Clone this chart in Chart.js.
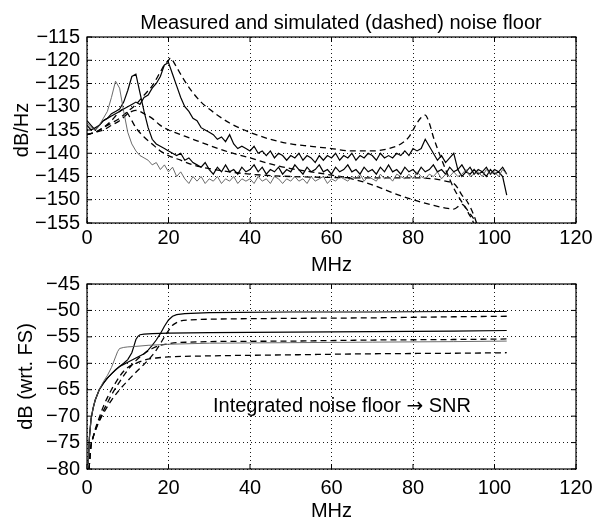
<!DOCTYPE html>
<html><head><meta charset="utf-8">
<script src="https://cdn.jsdelivr.net/npm/chart.js@4"></script>
<style>
body{margin:0;background:#fff;width:603px;height:521px;overflow:hidden}
.w{position:absolute;left:0;width:603px}
</style>
</head><body>
<div class="w" id="w1" style="top:0;height:277px"><canvas id="c1"></canvas></div>
<div class="w" id="w2" style="top:265px;height:258px"><canvas id="c2"></canvas></div>
<script>
// ---------- DATA ----------
const titleTop = 'Measured and simulated (dashed) noise floor';
const annotParts = ['Integrated noise floor ', '\u2192', ' SNR'];
const xLabel = 'MHz';
const yLabelTop = 'dB/Hz';
const yLabelBottom = 'dB (wrt. FS)';
const xTicks = [0, 20, 40, 60, 80, 100, 120];
const yTicksTop = [-155, -150, -145, -140, -135, -130, -125, -120, -115];
const yTicksBottom = [-80, -75, -70, -65, -60, -55, -50, -45];

// measured spectra, 1 MHz steps 0..103
const measFreq = [0,1,2,3,4,5,6,7,8,9,10,11,12,13,14,15,16,17,18,19,20,21,22,23,24,25,26,27,28,29,30,31,32,33,34,35,36,37,38,39,40,41,42,43,44,45,46,47,48,49,50,51,52,53,54,55,56,57,58,59,60,61,62,63,64,65,66,67,68,69,70,71,72,73,74,75,76,77,78,79,80,81,82,83,84,85,86,87,88,89,90,91,92,93,94,95,96,97,98,99,100,101,102,103];
const measA = [-133.5,-134.5,-135,-134,-132.5,-131,-128,-124.5,-126,-131,-135.5,-138,-139.5,-140.5,-141,-141.5,-142.5,-142,-143.5,-142.5,
 -144,-143,-145,-144,-145.5,-146.5,-145,-146,-145,-146.5,-145.5,-146,-145,-146.5,-145.5,-146,-145,-146.5,-145.5,-146,
 -145.5,-146.5,-145,-146,-145.5,-146.5,-145,-145.5,-146.5,-145.5,-146,-145,-146,-145.5,-146.5,-145,-146,-145.5,-145,-146.5,
 -145.5,-146,-145,-145.5,-146,-145,-145.5,-144.5,-146,-145,-145.5,-146,-144.5,-145.5,-145,-146,-144.5,-145,-145.5,-144.5,
 -145.5,-144,-145,-145.5,-144.5,-145,-144,-145.5,-144.5,-145,-144,-145,-144.5,-143.5,-145,-144.5,-144,-145,-143.5,-144.5,
 -144,-145,-143.5,-144.5];
const measB = [-134,-135,-134.5,-134,-133,-132.5,-131.5,-131,-130.5,-129,-126.5,-123.5,-123,-127,-131,-134.5,-137,-138,-138.5,-139,
 -139.5,-140,-140.5,-140,-141.5,-141,-142,-142.5,-143,-142,-143.5,-144.5,-143,-144,-142.5,-144,-143.5,-144.5,-143,-144,
 -143.5,-142.5,-144,-143,-144.5,-143.5,-144,-143,-144.5,-143.5,-144,-142.5,-143.5,-144.5,-143,-144,-143.5,-142.5,-144,-143.5,
 -144.5,-143,-144,-143.5,-142.5,-144,-143.5,-144.5,-143,-144,-143.5,-144.5,-143,-144,-142.5,-144,-143.5,-144.5,-143,-144,
 -143.5,-144.5,-143,-144,-143.5,-142.5,-144,-143.5,-144.5,-143,-144,-143.5,-142.5,-144,-143,-144.5,-143.5,-144,-143,-144.5,
 -143.5,-144,-143,-144.5];
const measC = [-133,-134,-135,-134,-133,-132.5,-132,-131.5,-131,-130.5,-130,-129.5,-129,-129.5,-128,-127.5,-126,-125,-123.5,-121,
 -120.5,-123,-125.5,-128,-130,-131,-132.5,-133,-134.5,-135,-135.5,-136,-137,-136.5,-137.5,-136,-138,-139,-138.5,-139,
 -139.5,-138.5,-140,-139.5,-140.5,-139.5,-141,-140,-140.5,-141.5,-140.5,-141,-140,-141.5,-140.5,-141,-142,-140.5,-141.5,-140.5,
 -141,-140,-141.5,-140.5,-141,-140,-141.5,-140.5,-141,-140,-140.5,-141.5,-140,-141,-140.5,-141,-140,-140.5,-139.5,-140.5,
 -139,-139.5,-139,-137,-138.5,-140,-141.5,-140.5,-142,-141,-140,-143.5,-145,-144,-144.5,-143.5,-144.5,-144,-145,-143.5,
 -144.5,-144,-145,-149];

// simulated spectra (dashed)
const simCx = [0,2,4,6,8,10,12,14,16,18,19,20,20.5,21,22,24,26,28,30,35,40,45,50,55,60,65,70,74,77,79,80,81,82,83,84,85,86,88,90,92,94,96,97];
const simCy = [-136,-135.5,-134.5,-133.5,-132.5,-131,-129.5,-127.5,-125.5,-122.5,-121,-120,-119.5,-120,-121.5,-124.5,-127,-129,-130.5,-133.5,-135.5,-137,-138,-138.5,-139,-139.5,-139.5,-139,-138,-136.5,-135,-133.5,-132.3,-131.8,-133.5,-136.5,-139,-143.5,-147.5,-150.5,-153,-155.5,-157];
const simBx = [0,2,4,6,8,10,11,12,13,14,16,18,20,23,26,30,35,40,45,50,55,60,65,70,75,80,85,88,90,92,94,95.5,97];
const simBy = [-136,-135.5,-135,-134,-133,-131.5,-131,-130.8,-131,-131.5,-132.5,-134,-135,-136,-137,-138.3,-139.8,-141,-142.3,-143.3,-144,-144.7,-145.5,-146.8,-148.5,-150,-151.2,-151.8,-152,-151,-153.5,-156,-158];
const simAx = [0,2,4,6,7,8,9,10,11,12,14,16,18,20,23,26,30,35,40,50,60,70,80,85,88,90,91,92,93,94,95,96,97];
const simAy = [-136,-135.5,-134.5,-133,-132,-131,-130.5,-131.5,-133,-134.5,-136.5,-138,-139.5,-140.5,-141.5,-142.5,-143.3,-144,-144.5,-145,-145.2,-145.3,-145.3,-145.5,-146,-146.5,-147.5,-149,-150,-151.5,-153.5,-156,-158];

// integrated noise (bottom)
const intAx = [0.3,0.6,1,1.5,2,3,4,5,6,7,7.5,8,9,10,12,15,20,30,50,70,90,103];
const intAy = [-79,-74,-70.5,-68.5,-67,-65,-63.5,-62.3,-60.8,-58.8,-57.8,-57.2,-57,-56.9,-56.8,-56.6,-56.4,-56.2,-56.1,-56,-55.9,-55.8];
const intBx = [0.3,0.6,1,1.5,2,3,4,5,6,7,8,9,10,11,11.5,12,12.5,13,14,16,20,30,50,70,90,103];
const intBy = [-79,-74,-70.5,-68.5,-67,-65,-63.8,-62.8,-62,-61.3,-60.6,-60,-59.3,-58,-56.8,-55.5,-54.9,-54.6,-54.5,-54.4,-54.3,-54.2,-54.1,-54,-53.9,-53.8];
const intCx = [0.3,0.6,1,1.5,2,3,4,5,6,7,8,9,10,12,14,15,16,17,18,19,20,21,22,24,27,30,50,70,90,103];
const intCy = [-79,-74,-70.5,-68.5,-67,-65,-63.8,-62.8,-62,-61.2,-60.6,-60.2,-59.8,-59,-58.2,-57.5,-56.6,-55.6,-54.4,-53,-51.8,-51.1,-50.8,-50.6,-50.5,-50.4,-50.3,-50.3,-50.2,-50.2];
const intSimCx = [0.5,0.8,1,1.5,2,3,4,5,6,8,10,12,14,16,17,18,19,20,21,22,23,25,28,35,50,70,90,103];
const intSimCy = [-80,-77,-75.5,-74,-72.8,-71,-69.5,-68.2,-67,-65,-63.3,-61.7,-60.2,-58.5,-57.5,-56.3,-55,-53.8,-52.8,-52.3,-52,-51.8,-51.7,-51.6,-51.5,-51.4,-51.2,-51.1];
const intSimBx = [0.5,0.8,1,1.5,2,3,4,5,6,8,10,12,14,16,18,20,22,25,30,50,70,90,103];
const intSimBy = [-80,-77,-75.5,-74,-72.8,-70.8,-69,-67.5,-66,-63.5,-61.3,-59.5,-58.2,-57.2,-56.6,-56.3,-56.1,-56,-55.9,-55.8,-55.6,-55.5,-55.4];
const intSimAx = [0.5,0.8,1,1.5,2,3,4,5,6,7,8,9,10,11,12,14,17,20,30,50,70,90,103];
const intSimAy = [-80,-77,-75.5,-74,-72.5,-70.3,-68.2,-66.5,-65,-63.7,-62.5,-61.5,-60.8,-60.3,-60,-59.4,-59,-58.8,-58.6,-58.4,-58.2,-58.1,-58];

// ---------- CHART ----------
const FONT = "'Liberation Sans', Arial, Helvetica, sans-serif";
const FS = 20;
Chart.defaults.font.family = FONT;
Chart.defaults.color = '#000';

const pts = (xs, ys) => xs.map((x, i) => ({x: x, y: ys[i]}));
const gray = {borderColor: '#5a5a5a', borderWidth: 0.9, pointRadius: 0, tension: 0, fill: false};
const black = {borderColor: '#000', borderWidth: 1.2, pointRadius: 0, tension: 0, fill: false};
const dash = {borderColor: '#000', borderWidth: 1.3, pointRadius: 0, borderDash: [6, 4], cubicInterpolationMode: 'monotone', fill: false};

const fmt = v => String(v).replace('-', '\u2212');

const boxPlugin = {
  id: 'box',
  afterDraw(chart, args, opts) {
    const {ctx, chartArea: a, scales} = chart;
    ctx.save();
    ctx.strokeStyle = '#000';
    ctx.lineWidth = 1.2;
    ctx.strokeRect(a.left, a.top, a.right - a.left, a.bottom - a.top);
    ctx.lineWidth = 1;
    ctx.beginPath();
    scales.x.ticks.forEach(t => {
      const x = scales.x.getPixelForValue(t.value);
      ctx.moveTo(x, a.bottom); ctx.lineTo(x, a.bottom - 5);
      ctx.moveTo(x, a.top); ctx.lineTo(x, a.top + 5);
    });
    scales.y.ticks.forEach(t => {
      const y = scales.y.getPixelForValue(t.value);
      ctx.moveTo(a.left, y); ctx.lineTo(a.left + 5, y);
      ctx.moveTo(a.right, y); ctx.lineTo(a.right - 5, y);
    });
    ctx.stroke();
    if (opts.parts) {
      ctx.fillStyle = '#000';
      ctx.textBaseline = 'alphabetic';
      let x = opts.x;
      if (opts.align === 'center') {
        let w = 0;
        opts.parts.forEach((p, i) => { ctx.font = opts.size + 'px ' + (opts.fonts ? opts.fonts[i] : FONT); w += ctx.measureText(p).width; });
        x -= w / 2;
      }
      ctx.textAlign = 'left';
      opts.parts.forEach((p, i) => {
        ctx.font = opts.size + 'px ' + (opts.fonts ? opts.fonts[i] : FONT);
        ctx.fillText(p, x, opts.y);
        x += ctx.measureText(p).width;
      });
    }
    ctx.restore();
  }
};

function scalesFor(yTicks, yTitle, tickPad, yTitlePad) {
  return {
    x: {
      type: 'linear', min: 0, max: 120,
      afterBuildTicks: s => { s.ticks = xTicks.map(v => ({value: v})); },
      afterFit: s => { s.height = 54; },
      ticks: {font: {size: FS}, color: '#000', padding: tickPad, maxRotation: 0, autoSkip: false},
      grid: {color: '#000', lineWidth: 0.9, drawTicks: false},
      border: {display: false, dash: [1, 3]},
      title: {display: true, text: xLabel, font: {size: FS}, color: '#000', padding: {top: 0, bottom: 0}}
    },
    y: {
      type: 'linear', min: yTicks[0], max: yTicks[yTicks.length - 1],
      afterBuildTicks: s => { s.ticks = yTicks.map(v => ({value: v})); },
      afterFit: s => { s.width = 87; },
      ticks: {font: {size: FS}, color: '#000', padding: 7, callback: fmt, autoSkip: false},
      grid: {color: '#000', lineWidth: 0.9, drawTicks: false},
      border: {display: false, dash: [1, 3]},
      title: {display: true, text: yTitle, font: {size: FS}, color: '#000', padding: {top: yTitlePad, bottom: 0}}
    }
  };
}

new Chart(document.getElementById('c1'), {
  type: 'line',
  data: {
    datasets: [
      Object.assign({data: pts(measFreq, measA)}, gray),
      Object.assign({data: pts(measFreq, measB)}, black),
      Object.assign({data: pts(measFreq, measC)}, black),
      Object.assign({data: pts(simCx, simCy)}, dash),
      Object.assign({data: pts(simBx, simBy)}, dash),
      Object.assign({data: pts(simAx, simAy)}, dash)
    ]
  },
  options: {
    responsive: true, maintainAspectRatio: false, animation: false,
    layout: {padding: {left: 0, right: 27, top: 37, bottom: 0}},
    plugins: {legend: {display: false}, tooltip: {enabled: false},
      box: {parts: [titleTop], x: 341, y: 29, size: FS, align: 'center'}},
    scales: scalesFor(yTicksTop, yLabelTop, 3, 10)
  },
  plugins: [boxPlugin]
});

new Chart(document.getElementById('c2'), {
  type: 'line',
  data: {
    datasets: [
      Object.assign({data: pts(intAx, intAy)}, gray),
      Object.assign({data: pts(intBx, intBy)}, black),
      Object.assign({data: pts(intCx, intCy)}, black),
      Object.assign({data: pts(intSimCx, intSimCy)}, dash),
      Object.assign({data: pts(intSimBx, intSimBy)}, dash),
      Object.assign({data: pts(intSimAx, intSimAy)}, dash)
    ]
  },
  options: {
    responsive: true, maintainAspectRatio: false, animation: false,
    layout: {padding: {left: 0, right: 27, top: 19, bottom: 0}},
    plugins: {legend: {display: false}, tooltip: {enabled: false},
      box: {parts: annotParts, fonts: [FONT, "'DejaVu Sans', sans-serif", FONT], x: 213, y: 147, size: FS, align: 'left'}},
    scales: scalesFor(yTicksBottom, yLabelBottom, 7, 14)
  },
  plugins: [boxPlugin]
});
</script>
</body></html>
